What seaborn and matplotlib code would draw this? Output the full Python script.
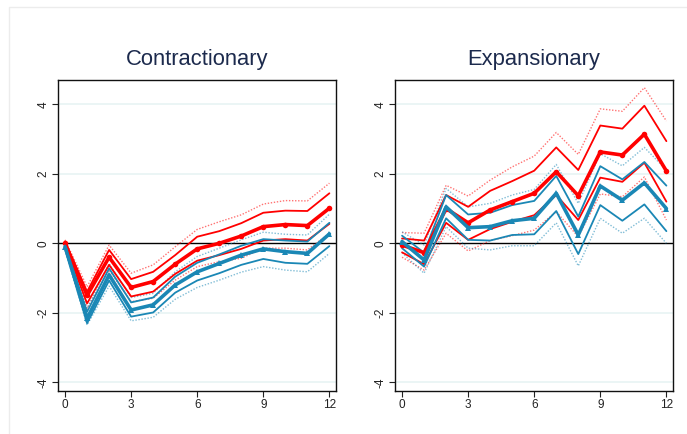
import numpy as np
import pandas as pd
import seaborn as sns
import matplotlib.pyplot as plt
from matplotlib.patches import Rectangle

horizon = list(range(13))
panel_titles = ["Contractionary", "Expansionary"]

# Contractionary shock: red response (point estimate, 68% and 90% bands)
con_red_mid = [0.0, -1.50, -0.40, -1.27, -1.10, -0.60, -0.16, 0.00, 0.21, 0.48, 0.54, 0.51, 1.01]
con_red_hi68 = [0.05, -1.39, -0.19, -1.03, -0.82, -0.34, 0.19, 0.35, 0.58, 0.88, 0.94, 0.93, 1.44]
con_red_lo68 = [-0.05, -1.73, -0.62, -1.53, -1.39, -0.88, -0.50, -0.34, -0.16, 0.08, 0.12, 0.08, 0.56]
con_red_hi90 = [0.10, -1.25, -0.05, -0.86, -0.62, -0.10, 0.40, 0.62, 0.82, 1.13, 1.23, 1.22, 1.73]
con_red_lo90 = [-0.10, -1.87, -0.77, -1.68, -1.58, -1.06, -0.67, -0.53, -0.43, -0.14, -0.14, -0.19, 0.29]

# Contractionary shock: blue response
con_blue_mid = [-0.10, -2.16, -0.91, -1.92, -1.77, -1.20, -0.82, -0.58, -0.34, -0.16, -0.24, -0.29, 0.27]
con_blue_hi68 = [-0.05, -1.97, -0.72, -1.70, -1.56, -0.96, -0.56, -0.32, -0.07, 0.12, 0.08, 0.05, 0.59]
con_blue_lo68 = [-0.15, -2.30, -1.07, -2.11, -1.99, -1.42, -1.07, -0.86, -0.62, -0.45, -0.56, -0.59, -0.08]
con_blue_hi90 = [0.00, -1.87, -0.58, -1.56, -1.44, -0.82, -0.38, -0.14, 0.10, 0.32, 0.26, 0.24, 0.84]
con_blue_lo90 = [-0.20, -2.35, -1.23, -2.23, -2.13, -1.61, -1.27, -1.06, -0.83, -0.67, -0.77, -0.82, -0.29]

# Expansionary shock: red response
exp_red_mid = [-0.05, -0.27, 1.00, 0.59, 0.96, 1.20, 1.44, 2.06, 1.37, 2.63, 2.54, 3.14, 2.08]
exp_red_hi68 = [0.14, 0.08, 1.39, 1.05, 1.51, 1.79, 2.09, 2.76, 2.11, 3.39, 3.30, 3.96, 2.94]
exp_red_lo68 = [-0.26, -0.60, 0.59, 0.10, 0.41, 0.62, 0.81, 1.39, 0.67, 1.89, 1.77, 2.32, 1.20]
exp_red_hi90 = [0.31, 0.29, 1.67, 1.36, 1.82, 2.20, 2.51, 3.19, 2.56, 3.87, 3.80, 4.48, 3.52]
exp_red_lo90 = [-0.40, -0.77, 0.29, -0.22, 0.08, 0.22, 0.38, 0.91, 0.19, 1.42, 1.34, 1.91, 0.67]

# Expansionary shock: blue response
exp_blue_mid = [0.05, -0.48, 1.05, 0.45, 0.48, 0.65, 0.72, 1.44, 0.24, 1.65, 1.24, 1.74, 1.00]
exp_blue_hi68 = [0.22, -0.27, 1.39, 0.83, 0.88, 1.10, 1.22, 1.94, 0.77, 2.22, 1.84, 2.34, 1.66]
exp_blue_lo68 = [-0.14, -0.67, 0.72, 0.10, 0.08, 0.24, 0.26, 0.93, -0.31, 1.10, 0.65, 1.12, 0.35]
exp_blue_hi90 = [0.33, -0.05, 1.58, 1.05, 1.15, 1.39, 1.55, 2.27, 1.15, 2.58, 2.23, 2.76, 2.11]
exp_blue_lo90 = [-0.27, -0.86, 0.48, -0.14, -0.19, -0.07, -0.07, 0.59, -0.65, 0.72, 0.29, 0.72, 0.00]

x_ticks = [0, 3, 6, 9, 12]
y_ticks = [-4, -2, 0, 2, 4]

RED = "#ff0000"
BLUE = "#1a87b5"

sns.set_theme(style="white")
plt.rcParams["font.family"] = ["Liberation Sans", "DejaVu Sans"]

fig = plt.figure(figsize=(6.87, 4.34), dpi=100)
fig.patch.set_facecolor("white")

# light frame around the graph region
fig.patches.append(Rectangle((9 / 687, -0.1), 1.2, 1 - 7 / 434 + 0.1,
                             transform=fig.transFigure, fill=False,
                             edgecolor="#ececec", linewidth=1.0, zorder=0))

ax_l = fig.add_axes([58 / 687, 1 - 391 / 434, 278 / 687, 311 / 434])
ax_r = fig.add_axes([395 / 687, 1 - 391 / 434, 278 / 687, 311 / 434])

panels = [
    (ax_l, (con_red_mid, con_red_hi68, con_red_lo68, con_red_hi90, con_red_lo90),
     (con_blue_mid, con_blue_hi68, con_blue_lo68, con_blue_hi90, con_blue_lo90)),
    (ax_r, (exp_red_mid, exp_red_hi68, exp_red_lo68, exp_red_hi90, exp_red_lo90),
     (exp_blue_mid, exp_blue_hi68, exp_blue_lo68, exp_blue_hi90, exp_blue_lo90)),
]


def draw_response(ax, series, color, marker, msize):
    mid, hi68, lo68, hi90, lo90 = series
    for band in (hi90, lo90):
        sns.lineplot(x=horizon, y=band, ax=ax, color=color, linewidth=1.0,
                     linestyle=(0, (1, 1.2)), alpha=0.55, zorder=3)
    for band in (hi68, lo68):
        sns.lineplot(x=horizon, y=band, ax=ax, color=color, linewidth=1.3, zorder=4)
    sns.lineplot(x=horizon, y=mid, ax=ax, color=color, linewidth=2.6,
                 marker=marker, markersize=msize, markeredgewidth=0, zorder=5)


for (ax, red, blue), title in zip(panels, panel_titles):
    ax.set_facecolor("white")
    for yv in (-4, -2, 2, 4):
        ax.axhline(yv, color="#e8f3f3", linewidth=1.2, zorder=1)
    ax.axhline(0, color="black", linewidth=1.0, zorder=2)
    draw_response(ax, red, RED, "o", 4.0)
    draw_response(ax, blue, BLUE, "^", 4.0)

    ax.set_xlim(-0.32, 12.3)
    ax.set_ylim(-4.25, 4.7)
    ax.set_xticks(x_ticks)
    ax.set_yticks(y_ticks)
    ax.set_xticklabels([str(t) for t in x_ticks], fontsize=8.5, color="#222222")
    ax.set_yticklabels([str(t) for t in y_ticks], fontsize=8.5, color="#222222",
                       rotation=90, va="center")
    ax.tick_params(axis="both", which="both", direction="out", length=4,
                   width=0.8, color="#222222", pad=2, bottom=True, left=True)
    ax.set_xlabel("")
    ax.set_ylabel("")
    for sp in ax.spines.values():
        sp.set_visible(True)
        sp.set_color("#111111")
        sp.set_linewidth(1.0)
    ax.set_title(title, fontsize=15.8, color="#1c2a4d", pad=11)

fig.savefig("out.png", dpi=100, facecolor="white")
